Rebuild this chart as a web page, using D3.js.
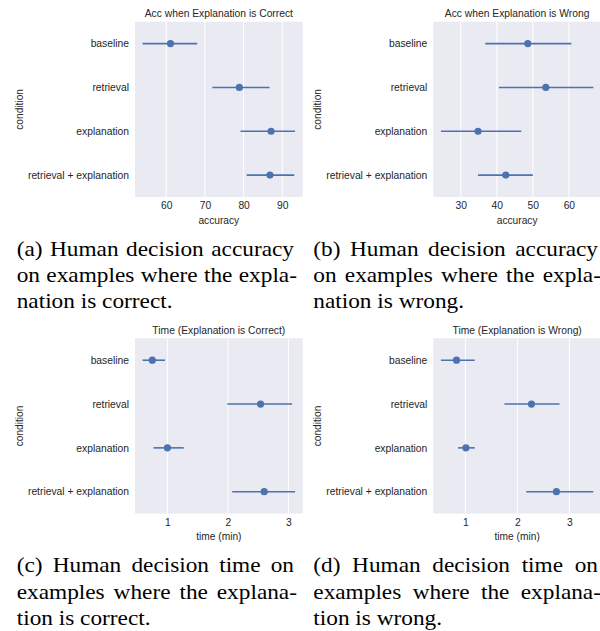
<!DOCTYPE html>
<html>
<head>
<meta charset="utf-8">
<script src="https://cdn.jsdelivr.net/npm/d3@7"></script>
<style>
  body { margin: 0; background: #fff; }
  svg { display: block; }
  .tick text { fill: #262626; }
</style>
</head>
<body>
<svg id="fig" width="600" height="631"></svg>
<script>
// categories (y axis, top to bottom)
const conditions = ['baseline', 'retrieval', 'explanation', 'retrieval + explanation'];

// accuracy when explanation is correct
const accCorrectMean = [61.1, 78.9, 87.1, 86.8];
const accCorrectLow = [53.9, 71.9, 79.2, 80.8];
const accCorrectHigh = [68.0, 86.7, 93.3, 93.1];

// accuracy when explanation is wrong
const accWrongMean = [48.6, 53.6, 34.8, 42.5];
const accWrongLow = [36.8, 40.6, 24.5, 34.8];
const accWrongHigh = [60.7, 66.8, 46.8, 50.0];

// time when explanation is correct (min)
const timeCorrectMean = [0.75, 2.54, 1.0, 2.6];
const timeCorrectLow = [0.59, 1.99, 0.77, 2.07];
const timeCorrectHigh = [0.96, 3.06, 1.27, 3.11];

// time when explanation is wrong (min)
const timeWrongMean = [0.83, 2.27, 1.01, 2.75];
const timeWrongLow = [0.53, 1.75, 0.86, 2.17];
const timeWrongHigh = [1.18, 2.81, 1.18, 3.46];

const accCorrectTicks = [60, 70, 80, 90];
const accWrongTicks = [30, 40, 50, 60];
const timeTicks = [1, 2, 3];

const titles = [
  'Acc when Explanation is Correct',
  'Acc when Explanation is Wrong',
  'Time (Explanation is Correct)',
  'Time (Explanation is Wrong)'
];
const xLabels = ['accuracy', 'accuracy', 'time (min)', 'time (min)'];
const yLabel = 'condition';

const captions = [
  ['(a) Human decision accuracy', 'on examples where the expla-', 'nation is correct.'],
  ['(b) Human decision accuracy', 'on examples where the expla-', 'nation is wrong.'],
  ['(c) Human decision time on', 'examples where the explana-', 'tion is correct.'],
  ['(d) Human decision time on', 'examples where the explana-', 'tion is wrong.']
];

const panels = [
  { mean: accCorrectMean, low: accCorrectLow, high: accCorrectHigh, ticks: accCorrectTicks },
  { mean: accWrongMean, low: accWrongLow, high: accWrongHigh, ticks: accWrongTicks },
  { mean: timeCorrectMean, low: timeCorrectLow, high: timeCorrectHigh, ticks: timeTicks },
  { mean: timeWrongMean, low: timeWrongLow, high: timeWrongHigh, ticks: timeTicks }
];

// layout
const colLeft = [135, 433.3];
const rowTop = [21.7, 338.3];
const plotW = 167.7;
const plotH = 175.3;
const capLeft = [16.7, 313.3];
const capRight = [294, 598];
const capBase = [256, 572.4];
const capLineH = 26.2;
const capStretch = 1.165; // caption glyphs are wider than tall in the scan

const sans = 'Arial, "Liberation Sans", Helvetica, sans-serif';
const serif = '"Times New Roman", "Liberation Serif", Times, serif';
const blue = '#4c72b0';

const svg = d3.select('#fig');

panels.forEach((p, i) => {
  const col = i % 2;
  const row = Math.floor(i / 2);
  const left = colLeft[col];
  const top = rowTop[row];

  // matplotlib style autoscale: data range + 5% margin
  const lo = d3.min(p.low);
  const hi = d3.max(p.high);
  const pad = (hi - lo) * 0.05;

  const x = d3.scaleLinear()
    .domain([lo - pad, hi + pad])
    .range([left, left + plotW]);

  const y = d3.scalePoint()
    .domain(conditions)
    .range([top, top + plotH])
    .padding(0.5);

  const g = svg.append('g');

  g.append('rect')
    .attr('x', left)
    .attr('y', top)
    .attr('width', plotW)
    .attr('height', plotH)
    .attr('fill', '#eaeaf2');

  // vertical grid
  g.selectAll('.grid')
    .data(p.ticks)
    .enter()
    .append('line')
    .attr('x1', d => x(d))
    .attr('x2', d => x(d))
    .attr('y1', top)
    .attr('y2', top + plotH)
    .attr('stroke', '#fff')
    .attr('stroke-width', 1);

  // x axis
  const xAxis = g.append('g')
    .attr('transform', `translate(0,${top + plotH})`)
    .call(d3.axisBottom(x).tickValues(p.ticks).tickSize(0).tickPadding(5).tickFormat(d3.format('d')));
  xAxis.select('.domain').remove();
  xAxis.selectAll('text')
    .style('font-family', sans)
    .style('font-size', '10.3px');

  // y axis
  const yAxis = g.append('g')
    .attr('transform', `translate(${left},0)`)
    .call(d3.axisLeft(y).tickSize(0).tickPadding(6));
  yAxis.select('.domain').remove();
  yAxis.selectAll('text')
    .style('font-family', sans)
    .style('font-size', '10.3px');

  // title
  g.append('text')
    .attr('x', left + plotW / 2)
    .attr('y', top - 4.5)
    .attr('text-anchor', 'middle')
    .attr('fill', '#262626')
    .style('font-family', sans)
    .style('font-size', '10.3px')
    .text(titles[i]);

  // axis labels
  g.append('text')
    .attr('x', left + plotW / 2)
    .attr('y', top + plotH + 26.5)
    .attr('text-anchor', 'middle')
    .attr('fill', '#262626')
    .style('font-family', sans)
    .style('font-size', '10.2px')
    .text(xLabels[i]);

  g.append('text')
    .attr('transform', `translate(${left - 112},${top + plotH / 2}) rotate(-90)`)
    .attr('text-anchor', 'middle')
    .attr('fill', '#262626')
    .style('font-family', sans)
    .style('font-size', '10.2px')
    .text(yLabel);

  // error bars and points
  const rows = conditions.map((c, k) => ({ c, m: p.mean[k], l: p.low[k], h: p.high[k] }));

  g.selectAll('.err')
    .data(rows)
    .enter()
    .append('line')
    .attr('x1', d => x(d.l))
    .attr('x2', d => x(d.h))
    .attr('y1', d => y(d.c))
    .attr('y2', d => y(d.c))
    .attr('stroke', blue)
    .attr('stroke-width', 1.6);

  g.selectAll('.pt')
    .data(rows)
    .enter()
    .append('circle')
    .attr('cx', d => x(d.m))
    .attr('cy', d => y(d.c))
    .attr('r', 3.6)
    .attr('fill', blue);

  // caption, justified line by line
  const cap = svg.append('g')
    .style('font-family', serif)
    .style('font-size', '20px')
    .attr('fill', '#000');

  captions[i].forEach((line, li) => {
    const words = line.split(' ');
    const baseY = capBase[row] + li * capLineH;
    const last = li === captions[i].length - 1;
    const nodes = words.map(w => cap.append('text').text(w));
    const widths = nodes.map(n => n.node().getComputedTextLength() * capStretch);
    const total = d3.sum(widths);
    const right = capRight[col] + (line.endsWith('-') ? 3 : 0);
    const gap = last ? 5.8 : (right - capLeft[col] - total) / (words.length - 1);
    let cx = capLeft[col];
    nodes.forEach((n, k) => {
      n.attr('transform', `translate(${cx},${baseY}) scale(${capStretch},1)`);
      cx += widths[k] + gap;
    });
  });
});
</script>
</body>
</html>
